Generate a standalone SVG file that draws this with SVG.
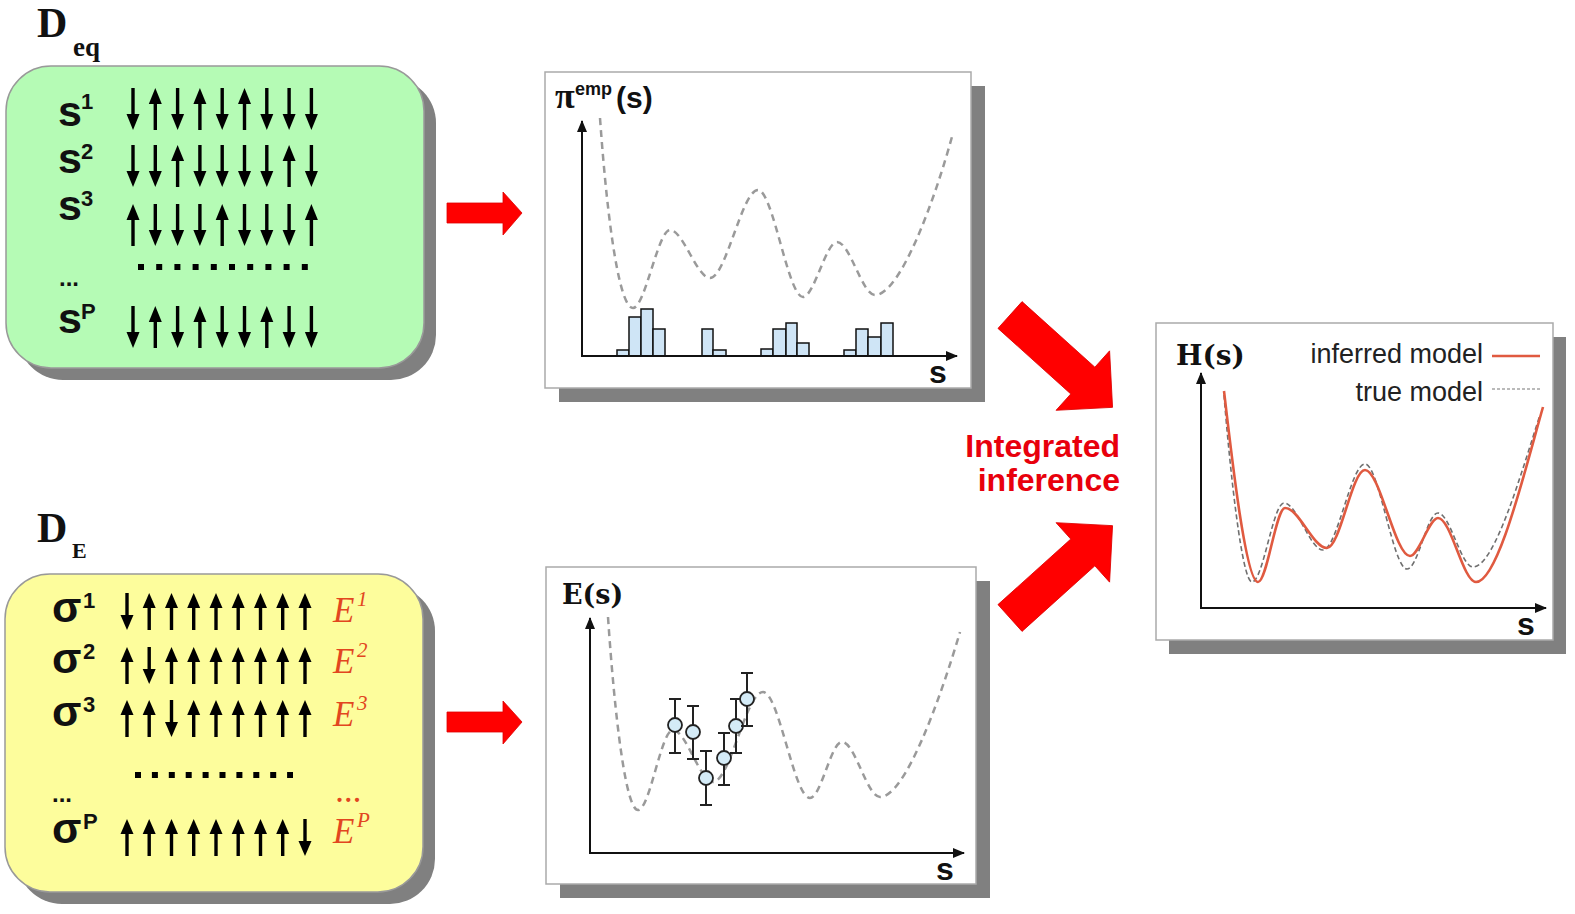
<svg xmlns="http://www.w3.org/2000/svg" xmlns:xlink="http://www.w3.org/1999/xlink" width="1575" height="914" viewBox="0 0 1575 914">
<style>
.shadow{fill:#808080}
.plot{fill:#fff;stroke:#aaa;stroke-width:1.5}
.sans{font-family:"Liberation Sans",Arial,sans-serif}
.serif{font-family:"Liberation Serif","Times New Roman",serif}
.slab{font-family:"DejaVu Serif",serif;font-weight:bold}
.lbl{font-family:"Liberation Sans",Arial,sans-serif;font-weight:bold;font-size:43px;fill:#111}
.sup{font-family:"Liberation Sans",Arial,sans-serif;font-weight:bold;font-size:22px;fill:#111}
.en{font-family:"Liberation Serif","Times New Roman",serif;font-style:italic;font-size:35px;fill:#e2461f}
.ensup{font-family:"Liberation Serif","Times New Roman",serif;font-style:italic;font-size:21px;fill:#e2461f}
.axis{stroke:#111;stroke-width:2;fill:none}
.curve{stroke:#9a9a9a;stroke-width:2.5;fill:none;stroke-dasharray:7 5}
.bar{fill:#cfe5f6;stroke:#111;stroke-width:1.5}
.pt{fill:#d4ebf7;stroke:#222;stroke-width:1.8}
.eb{stroke:#222;stroke-width:2;fill:none}
.big{fill:#ff0000;stroke:#d00;stroke-width:0.8}
.dots{stroke:#000;stroke-width:6}
</style>
<defs>
<marker id="ah" viewBox="0 0 12 10" refX="11" refY="5" markerWidth="12" markerHeight="10" markerUnits="userSpaceOnUse" orient="auto">
<path d="M0,0L12,5L0,10Z" fill="#111"/>
</marker>
<g id="u"><path d="M0,42V12" stroke="#000" stroke-width="3.4"/><path d="M0,0L-6.5,16L6.5,16Z"/></g>
<g id="d"><path d="M0,0V30" stroke="#000" stroke-width="3.4"/><path d="M0,42L-6.5,26L6.5,26Z"/></g>
<g id="u2"><path d="M0,37V12" stroke="#000" stroke-width="3.4"/><path d="M0,0L-6.5,15L6.5,15Z"/></g>
<g id="d2"><path d="M0,0V25" stroke="#000" stroke-width="3.4"/><path d="M0,37L-6.5,22L6.5,22Z"/></g>
</defs>

<g id="box-deq">
<rect x="18" y="78" width="418" height="302" rx="45" class="shadow"/>
<rect x="6" y="66" width="418" height="302" rx="45" fill="#b5fbb5" stroke="#999" stroke-width="1.5"/>
<text x="37" y="37" class="serif" font-weight="bold" font-size="42" fill="#111">D</text>
<text x="73" y="56" class="serif" font-weight="bold" font-size="27" fill="#111">eq</text>
<text x="58" y="126" class="lbl">s</text><text x="81" y="109" class="sup">1</text>
<text x="58" y="173" class="lbl">s</text><text x="81" y="159" class="sup">2</text>
<text x="58" y="220" class="lbl">s</text><text x="81" y="206" class="sup">3</text>
<text x="59" y="286" class="sans" font-weight="bold" font-size="24" fill="#111">...</text>
<text x="58" y="333" class="lbl">s</text><text x="81" y="319" class="sup">P</text>
<g>
<use xlink:href="#d" x="133" y="88"/><use xlink:href="#u" x="155.3" y="88"/><use xlink:href="#d" x="177.6" y="88"/><use xlink:href="#u" x="199.9" y="88"/><use xlink:href="#d" x="222.2" y="88"/><use xlink:href="#u" x="244.5" y="88"/><use xlink:href="#d" x="266.8" y="88"/><use xlink:href="#d" x="289.1" y="88"/><use xlink:href="#d" x="311.4" y="88"/>
<use xlink:href="#d" x="133" y="145"/><use xlink:href="#d" x="155.3" y="145"/><use xlink:href="#u" x="177.6" y="145"/><use xlink:href="#d" x="199.9" y="145"/><use xlink:href="#d" x="222.2" y="145"/><use xlink:href="#d" x="244.5" y="145"/><use xlink:href="#d" x="266.8" y="145"/><use xlink:href="#u" x="289.1" y="145"/><use xlink:href="#d" x="311.4" y="145"/>
<use xlink:href="#u" x="133" y="204"/><use xlink:href="#d" x="155.3" y="204"/><use xlink:href="#d" x="177.6" y="204"/><use xlink:href="#d" x="199.9" y="204"/><use xlink:href="#u" x="222.2" y="204"/><use xlink:href="#d" x="244.5" y="204"/><use xlink:href="#d" x="266.8" y="204"/><use xlink:href="#d" x="289.1" y="204"/><use xlink:href="#u" x="311.4" y="204"/>
<use xlink:href="#d" x="133" y="306"/><use xlink:href="#u" x="155.3" y="306"/><use xlink:href="#d" x="177.6" y="306"/><use xlink:href="#u" x="199.9" y="306"/><use xlink:href="#d" x="222.2" y="306"/><use xlink:href="#d" x="244.5" y="306"/><use xlink:href="#u" x="266.8" y="306"/><use xlink:href="#d" x="289.1" y="306"/><use xlink:href="#d" x="311.4" y="306"/>
</g>
<line x1="138" y1="267" x2="308" y2="267" class="dots" stroke-dasharray="6 12.2"/>
</g>

<g id="box-de">
<rect x="17" y="586" width="418" height="318" rx="45" class="shadow"/>
<rect x="5" y="574" width="418" height="318" rx="45" fill="#fdfd9c" stroke="#999" stroke-width="1.5"/>
<text x="37" y="542" class="serif" font-weight="bold" font-size="42" fill="#111">D</text>
<text x="72" y="558" class="serif" font-weight="bold" font-size="22" fill="#111">E</text>
<text x="52" y="622" class="lbl" font-size="44">σ</text><text x="83" y="608" class="sup">1</text>
<text x="52" y="673" class="lbl" font-size="44">σ</text><text x="83" y="659" class="sup">2</text>
<text x="52" y="726" class="lbl" font-size="44">σ</text><text x="83" y="712" class="sup">3</text>
<text x="52" y="802" class="sans" font-weight="bold" font-size="24" fill="#111">...</text>
<text x="52" y="843" class="lbl" font-size="44">σ</text><text x="83" y="829" class="sup">P</text>
<g>
<use xlink:href="#d2" x="127" y="593"/><use xlink:href="#u2" x="149.2" y="593"/><use xlink:href="#u2" x="171.5" y="593"/><use xlink:href="#u2" x="193.7" y="593"/><use xlink:href="#u2" x="216" y="593"/><use xlink:href="#u2" x="238.2" y="593"/><use xlink:href="#u2" x="260.5" y="593"/><use xlink:href="#u2" x="282.7" y="593"/><use xlink:href="#u2" x="305" y="593"/>
<use xlink:href="#u2" x="127" y="647"/><use xlink:href="#d2" x="149.2" y="647"/><use xlink:href="#u2" x="171.5" y="647"/><use xlink:href="#u2" x="193.7" y="647"/><use xlink:href="#u2" x="216" y="647"/><use xlink:href="#u2" x="238.2" y="647"/><use xlink:href="#u2" x="260.5" y="647"/><use xlink:href="#u2" x="282.7" y="647"/><use xlink:href="#u2" x="305" y="647"/>
<use xlink:href="#u2" x="127" y="700"/><use xlink:href="#u2" x="149.2" y="700"/><use xlink:href="#d2" x="171.5" y="700"/><use xlink:href="#u2" x="193.7" y="700"/><use xlink:href="#u2" x="216" y="700"/><use xlink:href="#u2" x="238.2" y="700"/><use xlink:href="#u2" x="260.5" y="700"/><use xlink:href="#u2" x="282.7" y="700"/><use xlink:href="#u2" x="305" y="700"/>
<use xlink:href="#u2" x="127" y="819"/><use xlink:href="#u2" x="149.2" y="819"/><use xlink:href="#u2" x="171.5" y="819"/><use xlink:href="#u2" x="193.7" y="819"/><use xlink:href="#u2" x="216" y="819"/><use xlink:href="#u2" x="238.2" y="819"/><use xlink:href="#u2" x="260.5" y="819"/><use xlink:href="#u2" x="282.7" y="819"/><use xlink:href="#d2" x="305" y="819"/>
</g>
<line x1="135" y1="775" x2="293" y2="775" class="dots" stroke-dasharray="6 10.9"/>
<text x="333" y="622" class="en">E</text><text x="357" y="606" class="ensup">1</text>
<text x="333" y="673" class="en">E</text><text x="357" y="657" class="ensup">2</text>
<text x="333" y="726" class="en">E</text><text x="357" y="710" class="ensup">3</text>
<text x="336" y="802" class="en" font-size="24">...</text>
<text x="333" y="843" class="en">E</text><text x="357" y="827" class="ensup">P</text>
</g>

<g id="plot-pi">
<rect x="559" y="86" width="426" height="316" class="shadow"/>
<rect x="545" y="72" width="426" height="316" class="plot"/>
<path class="curve" d="M600,118 C608,230 620,308 633,308 C645,308 658,230 670,230 C683,230 697,278 710,278 C726,278 742,190 758,190 C773,190 788,297 803,297 C814,297 826,242 837,242 C850,242 862,295 875,295 C900,295 935,200 953,133"/>
<rect class="bar" x="617" y="350" width="12" height="6"/><rect class="bar" x="629" y="317" width="12" height="39"/><rect class="bar" x="641" y="309" width="12" height="47"/><rect class="bar" x="653" y="329" width="12" height="27"/>
<rect class="bar" x="702" y="329" width="11" height="27"/><rect class="bar" x="713" y="350" width="13" height="6"/>
<rect class="bar" x="761" y="349" width="12" height="7"/><rect class="bar" x="773" y="329" width="13" height="27"/><rect class="bar" x="786" y="323" width="11" height="33"/><rect class="bar" x="797" y="343" width="12" height="13"/>
<rect class="bar" x="844" y="350" width="12" height="6"/><rect class="bar" x="856" y="329" width="12" height="27"/><rect class="bar" x="868" y="337" width="13" height="19"/><rect class="bar" x="881" y="323" width="12" height="33"/>
<path class="axis" d="M582,356V121" marker-end="url(#ah)"/>
<path class="axis" d="M581,356H957" marker-end="url(#ah)"/>
<text x="555" y="108" class="serif" font-weight="bold" font-size="36" fill="#111">π</text>
<text x="575" y="95" class="sans" font-weight="bold" font-size="18" fill="#111">emp</text>
<text x="616" y="108" class="sans" font-weight="bold" font-size="30" fill="#111">(s)</text>
<text x="929" y="383" class="sans" font-weight="bold" font-size="32" fill="#111">s</text>
</g>

<g id="plot-e">
<rect x="560" y="581" width="430" height="317" class="shadow"/>
<rect x="546" y="567" width="430" height="317" class="plot"/>
<path class="curve" d="M608,617 C615,720 626,810 638,810 C650,810 661,730 673,730 C686,730 700,782 713,782 C730,782 746,692 763,692 C779,692 794,798 810,798 C821,798 831,742 842,742 C855,742 867,797 880,797 C905,797 940,700 960,632"/>
<path class="eb" d="M675,699V753M669,699H681M669,753H681"/><circle class="pt" cx="675" cy="725" r="7"/>
<path class="eb" d="M693,706V759M687,706H699M687,759H699"/><circle class="pt" cx="693" cy="732" r="7"/>
<path class="eb" d="M706,751V805M700,751H712M700,805H712"/><circle class="pt" cx="706" cy="778" r="7"/>
<path class="eb" d="M724,733V785M718,733H730M718,785H730"/><circle class="pt" cx="724" cy="758" r="7"/>
<path class="eb" d="M736,699V753M730,699H742M730,753H742"/><circle class="pt" cx="736" cy="726" r="7"/>
<path class="eb" d="M747,673V726M741,673H753M741,726H753"/><circle class="pt" cx="747" cy="699" r="7"/>
<path class="axis" d="M590,853V618" marker-end="url(#ah)"/>
<path class="axis" d="M589,853H964" marker-end="url(#ah)"/>
<text x="562" y="604" class="slab" font-size="27" fill="#111">E(s)</text>
<text x="936" y="880" class="sans" font-weight="bold" font-size="32" fill="#111">s</text>
</g>

<g id="plot-h">
<rect x="1169" y="337" width="397" height="317" class="shadow"/>
<rect x="1156" y="323" width="397" height="317" class="plot"/>
<path d="M1224,395 C1230,470 1242,582 1252,582 C1263,582 1273,503 1284,503 C1297,503 1310,550 1323,550 C1337,550 1351,464 1365,464 C1379,464 1393,569 1407,569 C1418,569 1427,513 1438,513 C1450,513 1461,567 1473,567 C1495,567 1522,470 1540,415" fill="none" stroke="#6f6f6f" stroke-width="1.6" stroke-dasharray="5 3"/>
<path d="M1224,391 C1232,460 1246,582 1258,582 C1267,582 1276,508 1285,508 C1299,508 1313,548 1327,548 C1340,548 1352,470 1365,470 C1380,470 1395,556 1410,556 C1419,556 1429,518 1438,518 C1451,518 1463,582 1476,582 C1498,582 1525,470 1543,407" fill="none" stroke="#e05a40" stroke-width="2.6"/>
<path class="axis" d="M1201,608V373" marker-end="url(#ah)"/>
<path class="axis" d="M1200,608H1546" marker-end="url(#ah)"/>
<text x="1176" y="365" class="slab" font-size="28" fill="#111">H(s)</text>
<text x="1517" y="635" class="sans" font-weight="bold" font-size="32" fill="#111">s</text>
<text x="1483" y="363" class="sans" font-size="27" fill="#222" text-anchor="end">inferred model</text>
<text x="1483" y="401" class="sans" font-size="27" fill="#222" text-anchor="end">true model</text>
<line x1="1492" y1="356" x2="1540" y2="356" stroke="#e05a40" stroke-width="2.4"/>
<line x1="1492" y1="389" x2="1540" y2="389" stroke="#777" stroke-width="1.2" stroke-dasharray="3 2"/>
</g>

<g id="connectors">
<polygon class="big" points="447,203 503,203 503,192 522,213 503,235 503,223 447,223"/>
<polygon class="big" points="447,712 503,712 503,701 522,722 503,744 503,732 447,732"/>
<polygon class="big" transform="translate(1010,315) rotate(42)" points="0,-18 98,-18 98,-40 138,0 98,40 98,18 0,18"/>
<polygon class="big" transform="translate(1010,618) rotate(-42)" points="0,-18 98,-18 98,-40 138,0 98,40 98,18 0,18"/>
<text x="1120" y="457" class="sans" font-weight="bold" font-size="32" fill="#e8000c" text-anchor="end">Integrated</text>
<text x="1120" y="491" class="sans" font-weight="bold" font-size="32" fill="#e8000c" text-anchor="end">inference</text>
</g>
</svg>
